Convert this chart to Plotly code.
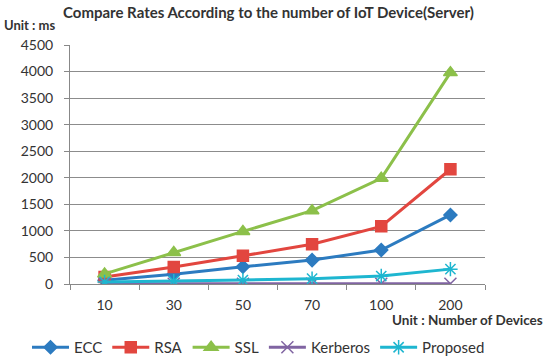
import plotly.graph_objects as go

categories = ["10", "30", "50", "70", "100", "200"]
ecc = [70, 185, 325, 450, 640, 1300]
rsa = [130, 320, 530, 750, 1085, 2160]
ssl = [190, 595, 990, 1380, 1990, 3980]
kerberos = [5, 5, 5, 5, 5, 5]
proposed = [40, 55, 75, 100, 150, 280]
y_ticks = [0, 500, 1000, 1500, 2000, 2500, 3000, 3500, 4000, 4500]

series = [
    ("ECC", ecc, "#2C7BC0", "diamond", 10),
    ("RSA", rsa, "#E2463F", "square", 11),
    ("SSL", ssl, "#8CC04A", "triangle-up", 12),
    ("Kerberos", kerberos, "#8064A2", "x-thin-open", 12),
    ("Proposed", proposed, "#1EB6D0", "asterisk-open", 12),
]

fig = go.Figure()
for name, vals, color, sym, size in series:
    fig.add_trace(go.Scatter(
        x=categories, y=vals, name=name, mode="lines+markers",
        line=dict(color=color, width=3),
        marker=dict(symbol=sym, size=size, color=color,
                    line=dict(color=color, width=1.5)),
    ))

L, R, T, B = 70, 65, 45, 76
W, H = 550, 360
pw = W - L - R
ph = H - T - B

def px(xp):
    return (xp - L) / pw

def py(yp):
    return (H - B - yp) / ph

font_family = "Lato, 'Open Sans', sans-serif"
fig.update_layout(
    width=W, height=H,
    margin=dict(l=L, r=R, t=T, b=B, autoexpand=False),
    plot_bgcolor="white", paper_bgcolor="white",
    font=dict(family=font_family, size=13, color="#333333"),
    showlegend=True,
    legend=dict(orientation="h", x=px(27), y=py(331), xanchor="left", yanchor="top",
                font=dict(size=15, color="#333333"), itemwidth=37,
                tracegroupgap=0, bgcolor="rgba(0,0,0,0)"),
    xaxis=dict(type="category", range=[-0.5, 5.5], showgrid=False, showline=True,
               linecolor="#888888", linewidth=1, ticks="outside",
               tickson="boundaries", ticklen=5, tickcolor="#888888",
               tickfont=dict(size=14, color="#333333"), ticklabelstandoff=8,
               automargin=False),
    yaxis=dict(range=[0, 4500], tickvals=y_ticks, showgrid=True, gridcolor="#8C8C8C",
               gridwidth=1, showline=True, linecolor="#888888", ticks="outside",
               ticklen=5, tickcolor="#888888", zeroline=False,
               tickfont=dict(size=14, color="#333333"), ticklabelstandoff=8,
               automargin=False),
    annotations=[
        dict(text="<b>Compare Rates According to the number of IoT Device(Server)</b>",
             x=px(268), y=py(12), xref="paper", yref="paper", showarrow=False,
             xanchor="center", yanchor="middle",
             font=dict(size=15, color="#333333")),
        dict(text="<b>Unit : ms</b>", x=px(2), y=py(25), xref="paper", yref="paper",
             showarrow=False, xanchor="left", yanchor="middle",
             font=dict(size=13, color="#333333")),
        dict(text="<b>Unit : Number of Devices</b>", x=px(545), y=py(320), xref="paper",
             yref="paper", showarrow=False, xanchor="right", yanchor="middle",
             font=dict(size=13.5, color="#333333")),
    ],
)

fig.write_html("out.html", config={"displayModeBar": False},
               post_script="document.body.style.margin='0';document.body.style.overflow='hidden';")
